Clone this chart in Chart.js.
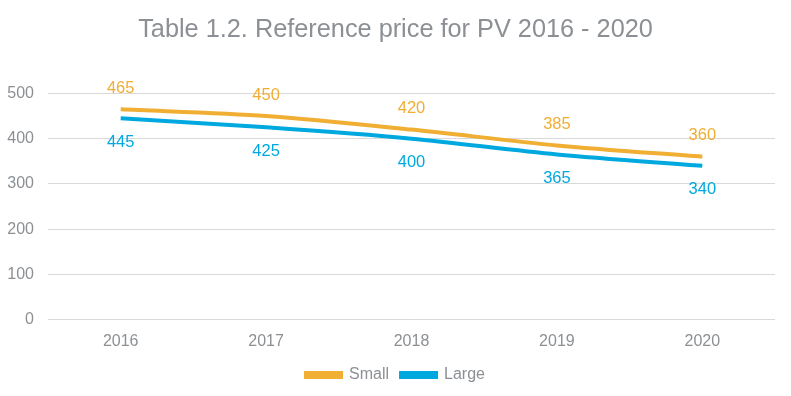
<!DOCTYPE html>
<html><head><meta charset="utf-8">
<script src="https://cdn.jsdelivr.net/npm/chart.js@4/dist/chart.umd.min.js"></script>
<style>html,body{margin:0;padding:0;background:#fff}#w{width:791px;height:396px}</style>
</head><body><div id="w"><canvas id="c" width="791" height="396"></canvas></div>
<script>
const categories = ['2016','2017','2018','2019','2020'];
const smallValues = [465, 450, 420, 385, 360];
const largeValues = [445, 425, 400, 365, 340];
const yTicks = [0, 100, 200, 300, 400, 500];
const seriesNames = ['Small', 'Large'];

const FONT = "'Liberation Sans', Arial, sans-serif";
const GREY = '#8c9094';
const ORANGE = '#f0ae33';
const BLUE = '#00a8e0';

const labelPlugin = {
  id: 'dl',
  afterDatasetsDraw(chart) {
    const ctx = chart.ctx;
    ctx.save();
    ctx.font = '16.5px ' + FONT;
    ctx.textAlign = 'center';
    ctx.textBaseline = 'middle';
    chart.data.datasets.forEach((ds, di) => {
      const meta = chart.getDatasetMeta(di);
      meta.data.forEach((pt, i) => {
        ctx.fillStyle = ds.borderColor;
        const off = di === 0 ? -21 : 24;
        ctx.fillText(String(ds.data[i]), pt.x, pt.y + off);
      });
    });
    ctx.restore();
  }
};

new Chart(document.getElementById('c'), {
  type: 'line',
  data: {
    labels: categories,
    datasets: [
      { label: seriesNames[0], data: smallValues, borderColor: ORANGE, backgroundColor: ORANGE, borderWidth: 4, pointRadius: 0, tension: 0.3, fill: false },
      { label: seriesNames[1], data: largeValues, borderColor: BLUE, backgroundColor: BLUE, borderWidth: 4, pointRadius: 0, tension: 0.3, fill: false }
    ]
  },
  options: {
    responsive: false,
    animation: false,
    layout: { padding: { left: 0, right: 0, top: 0, bottom: 3 } },
    plugins: {
      title: { display: true, text: 'Table 1.2. Reference price for PV 2016 - 2020', color: GREY,
        font: { family: FONT, size: 25.3, weight: 'normal' }, padding: { top: 15, bottom: 48 } },
      legend: { position: 'bottom', labels: { color: GREY, font: { family: FONT, size: 16 }, boxWidth: 35, boxHeight: 4, padding: 12 } },
      tooltip: { enabled: false }
    },
    scales: {
      x: { offset: true, grid: { display: false }, border: { display: false },
        ticks: { color: GREY, font: { family: FONT, size: 16 }, padding: 4 } },
      y: { min: 0, max: 500, afterBuildTicks(s) { s.ticks = yTicks.map(v => ({ value: v })); },
        afterFit(s) { s.width = 48; },
        grid: { color: '#d9d9d9', drawTicks: false }, border: { display: false },
        ticks: { color: GREY, font: { family: FONT, size: 16 }, padding: 14 } },
      yPad: { position: 'right', display: true, min: 0, max: 500,
        afterFit(s) { s.width = 16; },
        grid: { display: false, drawTicks: false }, border: { display: false },
        ticks: { display: false } }
    }
  },
  plugins: [labelPlugin]
});
</script></body></html>
